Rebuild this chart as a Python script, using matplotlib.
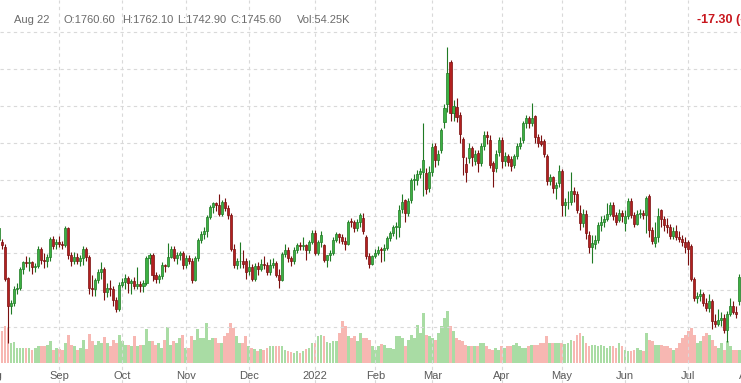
import numpy as np
import pandas as pd
import matplotlib
matplotlib.use("Agg")
import matplotlib.pyplot as plt
from matplotlib.patches import Rectangle
from matplotlib.collections import PatchCollection, LineCollection
import matplotlib.transforms as mtransforms

# ---------------- data (gold futures, daily, Aug 4 2021 - Jul 27 2022) ----------------
holidays = ["2021-09-06", "2021-11-25", "2021-12-24", "2022-01-17", "2022-02-21",
            "2022-04-15", "2022-05-30", "2022-06-20", "2022-07-04"]
first_day = "2021-08-04"

opens = [1818,1815,1809,1766,1728,1732,1752,1753,1779,1788,1787,1788,1781,1783,1806,1791,1790,1795,1819,1812,
         1815,1812,1811,1834,1797,1789,1795,1790,1793,1806,1795,1753,1751,1764,1775,1779,1748,1753,1751,1737,
         1725,1757,1761,1767,1760,1762,1756,1758,1755,1760,1794,1797,1770,1765,1769,1784,1783,1795,1806,1793,
         1798,1801,1784,1794,1789,1764,1793,1818,1826,1830,1849,1863,1868,1866,1853,1869,1861,1852,1806,1784,
         1789,1790,1789,1776,1782,1765,1783,1779,1786,1784,1775,1784,1787,1771,1764,1799,1805,1794,1789,1805,
         1811,1810,1811,1805,1815,1828,1801,1815,1811,1791,1797,1800,1818,1826,1822,1817,1813,1843,1842,1834,
         1842,1848,1822,1796,1786,1796,1801,1805,1804,1807,1821,1827,1835,1836,1860,1872,1855,1872,1899,1900,
         1907,1910,1909,1888,1910,1945,1926,1940,1978,2002,2059,1990,1998,1988,1955,1921,1929,1943,1925,1936,
         1922,1945,1960,1954,1922,1915,1937,1954,1925,1932,1928,1920,1932,1946,1953,1976,1984,1976,1986,1958,
         1952,1952,1932,1898,1903,1888,1895,1911,1866,1869,1870,1885,1880,1855,1841,1853,1825,1809,1812,1818,
         1838,1842,1846,1853,1866,1852,1845,1855,1841,1850,1871,1852,1840,1853,1855,1852,1877,1832,1814,1822,
         1858,1846,1838,1836,1824,1830,1822,1820,1815,1815,1810,1765,1740,1742,1745,1733,1726,1735,1708,1704,
         1710,1712,1696,1718,1728,1720,1735]
highs = [1838,1820,1812,1768,1737,1755,1759,1782,1790,1796,1795,1790,1787,1810,1808,1800,1799,1822,1824,1820,
         1824,1817,1837,1836,1802,1802,1801,1798,1810,1808,1797,1770,1767,1779,1788,1781,1760,1764,1756,1741,
         1761,1767,1772,1769,1765,1768,1781,1763,1764,1796,1800,1800,1775,1772,1788,1786,1814,1810,1810,1802,
         1803,1803,1797,1797,1793,1796,1821,1830,1835,1852,1866,1870,1870,1881,1872,1875,1866,1855,1812,1794,
         1815,1804,1793,1791,1785,1787,1788,1792,1796,1788,1792,1794,1790,1778,1802,1812,1808,1796,1808,1814,
         1815,1822,1812,1818,1831,1831,1818,1830,1813,1798,1804,1822,1829,1828,1826,1822,1845,1848,1845,1846,
         1855,1855,1825,1800,1798,1806,1810,1808,1812,1823,1830,1838,1843,1865,1880,1874,1875,1902,1907,1913,
         1915,1977,1915,1918,1950,1950,1940,1970,2002,2079,2062,2008,2010,1992,1958,1931,1949,1946,1940,1940,
         1950,1966,1966,1960,1925,1940,1958,1957,1937,1935,1932,1935,1950,1958,1980,1988,1986,2004,1988,1962,
         1960,1955,1935,1908,1905,1897,1920,1914,1875,1885,1910,1890,1885,1865,1860,1858,1830,1825,1825,1842,
         1850,1852,1868,1870,1869,1856,1860,1858,1858,1875,1875,1856,1858,1860,1858,1878,1880,1836,1842,1862,
         1860,1850,1848,1840,1835,1838,1830,1825,1822,1818,1812,1768,1748,1752,1748,1740,1745,1738,1717,1724,
         1720,1718,1722,1740,1735,1728,1772]
lows = [1815,1806,1762,1678,1718,1729,1745,1750,1772,1781,1776,1772,1774,1780,1786,1780,1782,1790,1806,1806,
        1808,1806,1808,1792,1783,1785,1786,1783,1784,1790,1745,1742,1742,1760,1765,1737,1741,1742,1728,1721,
        1722,1754,1752,1746,1745,1752,1752,1748,1748,1757,1786,1763,1760,1760,1765,1774,1781,1793,1790,1786,
        1791,1778,1780,1785,1759,1762,1790,1814,1820,1822,1846,1855,1857,1850,1850,1857,1847,1803,1780,1778,
        1780,1780,1765,1770,1762,1762,1771,1776,1778,1771,1770,1780,1768,1753,1762,1795,1788,1783,1786,1800,
        1805,1805,1791,1800,1812,1798,1798,1808,1788,1782,1790,1798,1815,1814,1812,1805,1811,1835,1829,1830,
        1835,1826,1792,1780,1784,1793,1797,1788,1790,1805,1816,1824,1820,1822,1855,1842,1850,1868,1886,1892,
        1902,1878,1880,1883,1905,1917,1920,1936,1970,1992,1980,1980,1978,1950,1906,1897,1922,1918,1920,1910,
        1918,1940,1948,1915,1890,1910,1932,1915,1918,1918,1912,1916,1928,1942,1950,1970,1970,1972,1950,1944,
        1945,1930,1893,1892,1882,1873,1890,1850,1851,1860,1865,1870,1855,1832,1835,1820,1800,1787,1806,1814,
        1830,1835,1844,1850,1845,1838,1843,1843,1830,1847,1848,1836,1838,1848,1846,1828,1822,1812,1808,1815,
        1835,1830,1828,1820,1820,1818,1815,1810,1800,1784,1763,1735,1732,1735,1728,1722,1720,1697,1700,1702,
        1702,1692,1680,1715,1718,1712,1730]
closes = [1834,1811,1765,1728,1732,1752,1753,1779,1788,1787,1788,1781,1783,1806,1791,1790,1795,1819,1810,1815,
          1812,1811,1834,1797,1789,1795,1790,1793,1806,1795,1753,1751,1764,1775,1779,1748,1753,1751,1737,1725,
          1757,1761,1767,1760,1762,1756,1758,1755,1760,1794,1797,1771,1765,1769,1784,1783,1795,1806,1793,1798,
          1801,1784,1794,1789,1764,1793,1818,1826,1830,1849,1863,1868,1866,1853,1869,1861,1852,1806,1784,1789,
          1790,1785,1775,1782,1765,1783,1779,1786,1784,1775,1784,1787,1771,1764,1799,1805,1794,1789,1805,1811,
          1810,1811,1805,1815,1828,1801,1815,1825,1791,1797,1800,1818,1826,1822,1817,1813,1843,1842,1834,1842,
          1852,1830,1796,1786,1796,1801,1805,1804,1807,1821,1827,1835,1837,1858,1869,1855,1871,1899,1900,1907,
          1911,1926,1887,1910,1944,1926,1935,1967,1997,2045,1990,2000,1985,1962,1930,1910,1943,1930,1935,1922,
          1945,1960,1958,1920,1912,1935,1954,1925,1932,1924,1918,1932,1946,1950,1976,1983,1976,1984,1958,1950,
          1948,1935,1898,1903,1888,1892,1912,1866,1869,1870,1885,1880,1859,1841,1853,1828,1809,1814,1818,1838,
          1842,1846,1853,1866,1850,1842,1855,1850,1850,1871,1852,1840,1853,1855,1852,1875,1832,1817,1822,1850,
          1846,1838,1836,1824,1830,1822,1820,1815,1808,1806,1765,1740,1742,1745,1733,1726,1735,1708,1704,1710,
          1712,1696,1718,1728,1720,1718,1768]
volumes = [227,253,299,280,160,165,120,120,120,120,120,107,120,133,139,133,147,173,107,120,
           112,107,160,227,147,133,107,120,181,112,232,173,147,173,160,208,160,133,187,160,
           227,173,147,147,133,219,139,147,147,272,173,173,147,160,120,187,285,147,173,160,
           200,227,120,120,213,187,272,200,200,320,181,200,200,160,160,213,240,320,280,213,
           160,160,219,133,120,112,93,112,107,120,133,133,139,133,133,107,93,85,80,93,
           80,93,112,120,160,160,213,227,213,165,160,173,173,240,333,293,213,200,213,173,
           240,200,200,187,133,107,133,155,147,120,120,112,213,219,200,133,187,227,200,307,
           240,400,227,213,200,187,240,293,360,419,293,253,200,187,173,147,133,133,133,133,
           160,160,133,112,107,120,107,133,120,133,133,147,160,133,120,120,133,147,147,147,
           160,160,213,160,160,160,160,160,152,160,187,173,227,240,213,160,133,147,147,133,
           147,133,120,133,133,120,160,133,107,93,93,107,120,107,93,240,187,173,147,147,
           147,133,133,120,107,120,160,200,227,253,280,227,160,173,213,240,227,187,133,120,
           160,107,173,133,107,107,107]

header_date = "Aug 22"
header_ohlc = ["O:1760.60", "H:1762.10", "L:1742.90", "C:1745.60"]
header_vol = "Vol:54.25K"
header_change = "-17.30 (-0.98%)"

# ---------------- layout ----------------
W, H = 741, 383
fig = plt.figure(figsize=(W / 100, H / 100), dpi=100)
fig.patch.set_facecolor("white")

cal = pd.bdate_range("2021-08-02", "2022-08-01")
cal = cal[~cal.isin(pd.to_datetime(holidays))]
offset = cal.get_loc(pd.Timestamp(first_day))
cal_pos = np.arange(len(cal)) - offset

px_per_day = 3.01
x_left = 1 / px_per_day
x_right = (W + 1) / px_per_day

# price scale: 2100 at y=32px, 1700 at y=327px
ppx = (327 - 32) / 400.0
p_top = 2100 + 32 / ppx
p_bot = 2100 - (H - 32) / ppx

# volume axis (behind)
axv = fig.add_axes([0, 0, 1, 1])
vol_per_px = 8.0
axv.set_xlim(x_left, x_right)
axv.set_ylim(-20 * vol_per_px, (H - 20) * vol_per_px)
axv.axis("off")

ax = fig.add_axes([0, 0, 1, 1], sharex=axv)
ax.set_xlim(x_left, x_right)
ax.set_ylim(p_bot, p_top)
ax.patch.set_alpha(0)
ax.axis("off")

n = len(closes)
xs = np.arange(n)
o = np.array(opens, float); c = np.array(closes, float)
hi = np.array(highs, float); lo = np.array(lows, float)
up = c >= o

green_face, green_edge = "#3cb043", "#1f7a24"
red_face, red_edge = "#b3201f", "#7a1010"
vol_green, vol_red = "#a9dca4", "#f7b7b2"

# grid
grid_kw = dict(color="#d9d9d9", lw=0.8, ls=(0, (3, 3)), zorder=0)
for p in range(1700, 2101, 50):
    ax.axhline(p, **grid_kw)

months = pd.Series(cal_pos, index=cal)
month_first = months.groupby([cal.year, cal.month]).min()
month_dates = pd.Series(cal, index=cal).groupby([cal.year, cal.month]).min()
lab_tr = mtransforms.blended_transform_factory(ax.transData, ax.transAxes)
for (yy, mm), pos in month_first.items():
    ax.axvline(pos, **grid_kw)
    d = month_dates[(yy, mm)]
    label = str(yy) if mm == 1 else d.strftime("%b")
    ax.text(pos, 1 - 376 / H, label, transform=lab_tr, ha="center", va="center", fontsize=8,
            color="#5a5a5a", family="Liberation Sans", clip_on=False)

# volume bars
axv.bar(xs, volumes, width=0.92, color=np.where(up, vol_green, vol_red), linewidth=0, zorder=1)

# candles
wick_segs = [((x, l), (x, h)) for x, l, h in zip(xs, lo, hi)]
ax.add_collection(LineCollection(wick_segs, colors=np.where(up, green_edge, red_edge), linewidths=0.8, zorder=3))
bw = 0.68
rects = []
for x, oo, cc in zip(xs, o, c):
    b0, b1 = min(oo, cc), max(oo, cc)
    if b1 - b0 < 1.3:
        m = (b0 + b1) / 2
        b0, b1 = m - 0.65, m + 0.65
    rects.append(Rectangle((x - bw / 2, b0), bw, b1 - b0))
ax.add_collection(PatchCollection(rects, facecolors=np.where(up, green_face, red_face),
                                  edgecolors=np.where(up, green_edge, red_edge), linewidths=0.5, zorder=4))

# header
hx = [14, 63, 122, 177, 230]
fig.text(hx[0] / W, 1 - 20 / H, header_date, fontsize=8, color="#6b6b6b", va="center", family="Liberation Sans")
for xx, t in zip(hx[1:], header_ohlc):
    fig.text(xx / W, 1 - 20 / H, t, fontsize=8, color="#6b6b6b", va="center", family="Liberation Sans")
fig.text(297 / W, 1 - 20 / H, header_vol, fontsize=8, color="#6b6b6b", va="center", family="Liberation Sans")
fig.text(697 / W, 1 - 20 / H, header_change, fontsize=9, color="#c8171e", va="center",
         family="Liberation Sans", fontweight="bold")

fig.savefig("out.png", dpi=100, facecolor="white")
